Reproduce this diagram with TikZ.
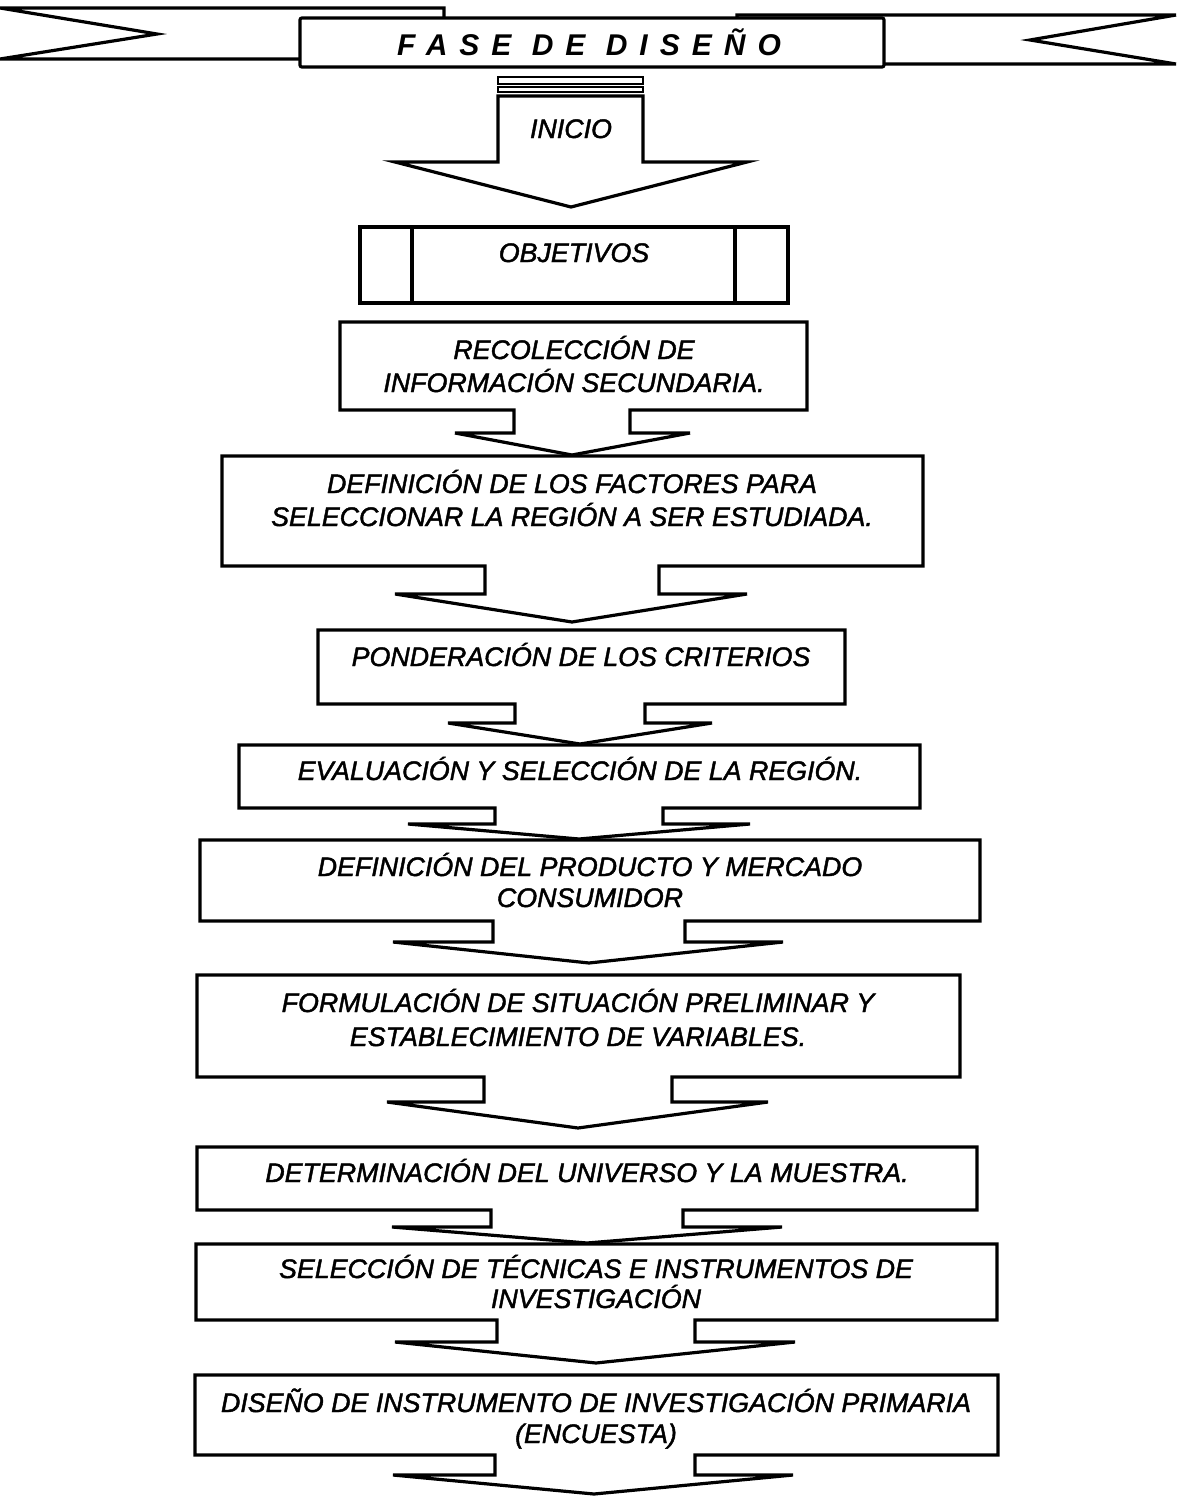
\documentclass[tikz,border=0pt]{standalone}
\usepackage{fontspec}
\setmainfont{Liberation Sans}
\newfontfamily\stepfont{Liberation Sans}[FakeBold=1.6,ItalicFeatures={FakeBold=1.6}]
\newfontfamily\bannerfont{Liberation Sans}[LetterSpace=40]
\begin{document}
\begin{tikzpicture}[x=1pt,y=-1pt,
  panel/.style={draw=black,line width=3.2pt,fill=white,line join=miter},
  thinbar/.style={draw=black,line width=1.8pt,fill=white},
  steptext/.style={font=\stepfont\itshape\fontsize{26.8}{33}\selectfont,anchor=base,inner sep=0pt},
]
\useasboundingbox (0,0) rectangle (1176,1496);

% ribbon banner
\draw[panel] (0,8) -- (444,8) -- (444,59) -- (0,59) -- (157,34) -- cycle;
\draw[panel] (737,15) -- (1176,15) -- (1030,40) -- (1176,64) -- (737,64) -- cycle;
\draw[panel,rounded corners=2pt] (300,18) rectangle (884,67);
\node[anchor=base,inner sep=0pt,font=\bannerfont\bfseries\itshape\fontsize{30}{32}\selectfont] (fase) at (589,56) {FASE DE DISEÑO};

% start arrow
\draw[thinbar] (498,77) rectangle (643,84);
\draw[thinbar] (498,87) rectangle (643,92);
\draw[panel] (498,96) -- (643,96) -- (643,162) -- (747,162) -- (571,207) -- (395,162) -- (498,162) -- cycle;
\node[steptext] (inicio) at (571,138) {INICIO};

% objectives (predefined process)
\draw[panel] (360,227) rectangle (788,303);
\draw[panel] (412,227) -- (412,303) (735,227) -- (735,303);
\node[steptext] (objetivos) at (574,262) {OBJETIVOS};

% steps with their block arrows
\draw[panel] (340,322) -- (807,322) -- (807,410) -- (630,410) -- (630,433) -- (690,433) -- (572,455) -- (455,433) -- (514,433) -- (514,410) -- (340,410) -- cycle;
\node[steptext] (recol1) at (574,359) {RECOLECCIÓN DE};
\node[steptext] (recol2) at (574,392) {INFORMACIÓN SECUNDARIA.};

\draw[panel] (222,456) -- (923,456) -- (923,566) -- (659,566) -- (659,594) -- (747,594) -- (572,622) -- (395,594) -- (485,594) -- (485,566) -- (222,566) -- cycle;
\node[steptext] (fact1) at (572,493) {DEFINICIÓN DE LOS FACTORES PARA};
\node[steptext] (fact2) at (572,526) {SELECCIONAR LA REGIÓN A SER ESTUDIADA.};

\draw[panel] (318,630) -- (845,630) -- (845,704) -- (645,704) -- (645,723) -- (712,723) -- (580,744) -- (448,723) -- (515,723) -- (515,704) -- (318,704) -- cycle;
\node[steptext] (ponder) at (581,666) {PONDERACIÓN DE LOS CRITERIOS};

\draw[panel] (239,745) -- (920,745) -- (920,808) -- (663,808) -- (663,824) -- (750,824) -- (579,839) -- (408,824) -- (495,824) -- (495,808) -- (239,808) -- cycle;
\node[steptext] (evalua) at (580,780) {EVALUACIÓN Y SELECCIÓN DE LA REGIÓN.};

\draw[panel] (200,840) -- (980,840) -- (980,921) -- (685,921) -- (685,942) -- (783,942) -- (589,963) -- (393,942) -- (493,942) -- (493,921) -- (200,921) -- cycle;
\node[steptext] (prod1) at (590,876) {DEFINICIÓN DEL PRODUCTO Y MERCADO};
\node[steptext] (prod2) at (590,907) {CONSUMIDOR};

\draw[panel] (197,975) -- (960,975) -- (960,1077) -- (672,1077) -- (672,1102) -- (768,1102) -- (578,1128) -- (387,1102) -- (484,1102) -- (484,1077) -- (197,1077) -- cycle;
\node[steptext] (form1) at (578,1012) {FORMULACIÓN DE SITUACIÓN PRELIMINAR Y};
\node[steptext] (form2) at (578,1046) {ESTABLECIMIENTO DE VARIABLES.};

\draw[panel] (197,1147) -- (977,1147) -- (977,1210) -- (683,1210) -- (683,1227) -- (782,1227) -- (587,1243) -- (392,1227) -- (491,1227) -- (491,1210) -- (197,1210) -- cycle;
\node[steptext] (determ) at (587,1182) {DETERMINACIÓN DEL UNIVERSO Y LA MUESTRA.};

\draw[panel] (196,1244) -- (997,1244) -- (997,1320) -- (695,1320) -- (695,1342) -- (795,1342) -- (596,1363) -- (395,1342) -- (497,1342) -- (497,1320) -- (196,1320) -- cycle;
\node[steptext] (tecn1) at (596,1278) {SELECCIÓN DE TÉCNICAS E INSTRUMENTOS DE};
\node[steptext] (tecn2) at (596,1308) {INVESTIGACIÓN};

\draw[panel] (195,1375) -- (998,1375) -- (998,1455) -- (695,1455) -- (695,1475) -- (793,1475) -- (594,1494) -- (393,1475) -- (495,1475) -- (495,1455) -- (195,1455) -- cycle;
\node[steptext] (encu1) at (596,1412) {DISEÑO DE INSTRUMENTO DE INVESTIGACIÓN PRIMARIA};
\node[steptext] (encu2) at (596,1443) {(ENCUESTA)};
\end{tikzpicture}
\end{document}
